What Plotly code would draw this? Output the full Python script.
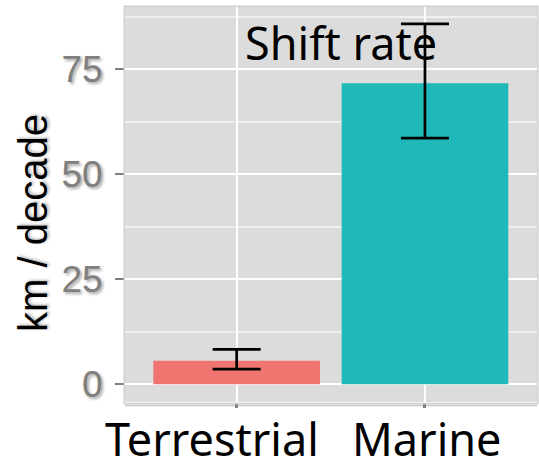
import plotly.graph_objects as go

# ---- data ----
categories = ["Terrestrial", "Marine"]
shift_rate = [5.6, 71.7]          # km / decade
ci_lower = [3.6, 58.6]
ci_upper = [8.3, 85.8]
bar_colors = ["#F07470", "#20B9B9"]
y_ticks = [0, 25, 50, 75]
title_text = "Shift rate"
y_title = "km / decade"

err_plus = [u - v for u, v in zip(ci_upper, shift_rate)]
err_minus = [v - l for v, l in zip(shift_rate, ci_lower)]

W, H = 539, 470
L, R, T, B = 125, 2, 7, 68
pw, ph = W - L - R, H - T - B

def px_x(px):
    return (px - L) / pw

def px_y(py):
    return 1 - (py - T) / ph

fig = go.Figure()
fig.add_trace(go.Bar(
    x=list(range(len(categories))),
    y=shift_rate,
    width=0.885,
    marker=dict(color=bar_colors, line=dict(width=0)),
    error_y=dict(type="data", symmetric=False, array=err_plus, arrayminus=err_minus,
                 color="black", thickness=2.7, width=24),
    showlegend=False,
))

grey = "#7F7F7F"
fig.update_layout(
    width=W, height=H,
    margin=dict(l=L, r=R, t=T, b=B, pad=0),
    paper_bgcolor="white",
    plot_bgcolor="#DCDCDC",
    xaxis=dict(
        range=[-0.593, 1.595],
        tickvals=list(range(len(categories))),
        ticktext=["", ""],
        showgrid=True, gridcolor="white", gridwidth=2,
        zeroline=False,
        ticks="outside", ticklen=5, tickwidth=2.5, tickcolor=grey,
        showline=False,
    ),
    yaxis=dict(
        range=[-4.21, 89.83],
        tickvals=y_ticks,
        showgrid=True, gridcolor="white", gridwidth=2,
        zeroline=True, zerolinecolor="white", zerolinewidth=2,
        minor=dict(dtick=12.5, tick0=0, showgrid=True, gridcolor="#EFEFEF", gridwidth=1.5, ticks=""),
        ticks="outside", ticklen=9, tickwidth=2, tickcolor=grey,
        ticklabelstandoff=5,
        tickfont=dict(family="Liberation Sans, Arial", size=37, color=grey,
                      shadow="2px 2px 3px rgba(0,0,0,0.35)"),
        showline=False,
    ),
    shapes=[
        dict(type="rect", xref="paper", yref="paper", x0=-0.002, x1=1.002, y0=-0.004, y1=1.002,
             line=dict(color="#D0D0D0", width=1.5), fillcolor="rgba(0,0,0,0)", layer="above"),
        dict(type="line", xref="paper", yref="paper", x0=0.0, x1=1.0, y0=-0.009, y1=-0.009,
             line=dict(color="rgba(150,150,150,0.45)", width=2)),
    ],
    annotations=[
        dict(text=title_text, xref="paper", yref="paper", x=px_x(341), y=px_y(42),
             xanchor="center", yanchor="middle", showarrow=False,
             font=dict(family="Noto Sans", size=45, color="black")),
        dict(text=y_title, xref="paper", yref="paper", x=px_x(33), y=px_y(223),
             xanchor="center", yanchor="middle", textangle=-90, showarrow=False,
             font=dict(family="Liberation Sans, Arial", size=40, color="black",
                       shadow="1px 2px 3px rgba(0,0,0,0.3)")),
        dict(text=categories[0], xref="x", yref="paper", x=0, y=px_y(438), xshift=-25,
             xanchor="center", yanchor="middle", showarrow=False,
             font=dict(family="Noto Sans", size=45, color="black")),
        dict(text=categories[1], xref="x", yref="paper", x=1, y=px_y(438), xshift=2,
             xanchor="center", yanchor="middle", showarrow=False,
             font=dict(family="Noto Sans", size=45, color="black")),
    ],
)

fig.write_html("out.html")
